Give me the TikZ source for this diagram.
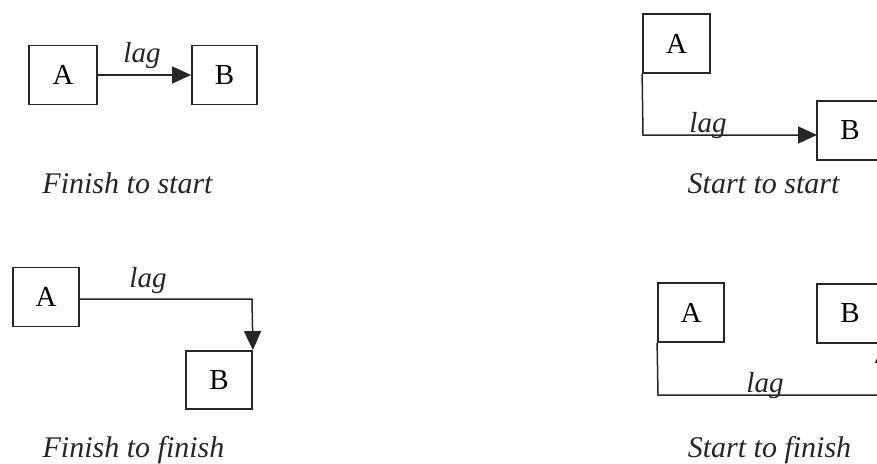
\documentclass[tikz,border=0pt]{standalone}
\usepackage{fontspec}
\setmainfont{Liberation Serif}
\usetikzlibrary{arrows.meta}
\begin{document}
\begin{tikzpicture}[x=1pt,y=-1pt,
  actbox/.style={draw=black!85, line width=1.8pt, inner sep=0pt, minimum width=66pt, minimum height=59pt, font=\fontsize{29}{32}\selectfont},
  conn/.style={draw=black!85, line width=1.5pt, -{Triangle[length=19pt,width=17pt]}},
  lagtext/.style={anchor=base, inner sep=0pt, text=black!85, font=\fontsize{29}{32}\selectfont\itshape},
  captext/.style={anchor=base, inner sep=0pt, text=black!85, font=\fontsize{30}{34}\selectfont\itshape}]
\useasboundingbox (0,0) rectangle (877,463);
\clip (0,0) rectangle (877,463);
\fill[white] (0,0) rectangle (877,463);
% Finish to start
\node[actbox, minimum width=68pt] (a1) at (63,75) {A};
\node[actbox, minimum width=65pt] (b1) at (224.5,75) {B};
\draw[conn] (a1.east) -- (b1.west);
\node[lagtext] (l1) at (142,62) {lag};
\node[captext] (c1) at (127.5,193) {Finish to start};
% Start to start
\node[actbox, minimum width=67pt] (a2) at (676.5,43.5) {A};
\node[actbox] (b2) at (850,130.5) {B};
\coordinate (k2) at (643,135);
\coordinate (e2) at (817,135);
\draw[conn] (a2.south west) -- (k2) -- (e2);
\node[lagtext] (l2) at (708,132) {lag};
\node[captext] (c2) at (763.5,193) {Start to start};
% Finish to finish
\node[actbox] (a3) at (46,297) {A};
\node[actbox, minimum height=58pt] (b3) at (219,380) {B};
\coordinate (s3) at (79,299);
\coordinate (k3) at (252,299);
\draw[conn] (s3) -- (k3) -- (b3.north east);
\node[lagtext] (l3) at (148,287) {lag};
\node[captext] (c3) at (133.5,457) {Finish to finish};
% Start to finish
\node[actbox] (a4) at (691,312.5) {A};
\node[actbox] (b4) at (850,313.5) {B};
\coordinate (k4a) at (658,395);
\coordinate (k4b) at (883,395);
\draw[conn] (a4.south west) -- (k4a) -- (k4b) -- (b4.south east);
\node[lagtext] (l4) at (765,392) {lag};
\node[captext] (c4) at (769.5,457) {Start to finish};
\end{tikzpicture}
\end{document}
